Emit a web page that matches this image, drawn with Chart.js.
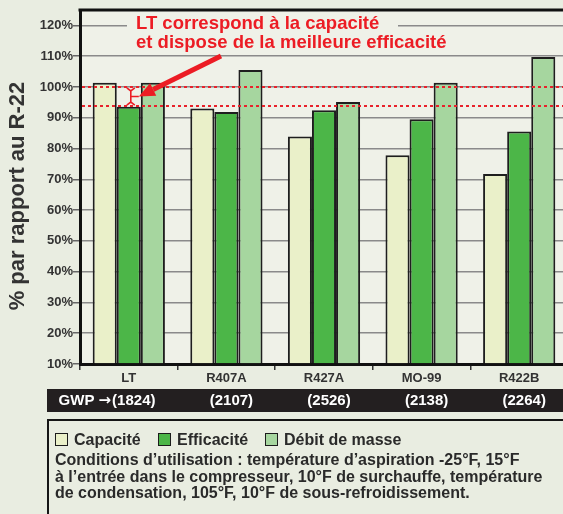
<!DOCTYPE html>
<html>
<head>
<meta charset="utf-8">
<script src="https://cdn.jsdelivr.net/npm/chart.js@4.4.1/dist/chart.umd.min.js"></script>
<style>
  html, body { margin: 0; padding: 0; }
  body { width: 563px; height: 514px; overflow: hidden; background: #e9ede1; position: relative;
         font-family: "Liberation Sans", Arial, sans-serif; }
  #wrap { position: absolute; left: 0; top: 0; width: 570px; height: 514px; }
  #legendBox { position: absolute; left: 47px; top: 419px; width: 600px; height: 120px;
               border: 2px solid #161616; box-sizing: border-box; color: #2a2a2a; }
  .leg { position: absolute; top: 10px; font-weight: bold; font-size: 16px; line-height: 18px; white-space: nowrap; }
  .sw { display: inline-block; width: 11px; height: 11px; border: 1.5px solid #1c1c1c; vertical-align: -1px; margin-right: 6px; }
  #cond { position: absolute; left: 6px; top: 31px; font-weight: bold; font-size: 16px; line-height: 16.5px; white-space: nowrap; }
</style>
</head>
<body>
<div id="wrap"><canvas id="c"></canvas></div>
<div id="legendBox">
  <div class="leg" style="left:6px"><span class="sw" id="sw0"></span>Capacité</div>
  <div class="leg" style="left:109px"><span class="sw" id="sw1"></span>Efficacité</div>
  <div class="leg" style="left:216px"><span class="sw" id="sw2"></span>Débit de masse</div>
  <div id="cond">Conditions d’utilisation : température d’aspiration -25°F, 15°F<br>à l’entrée dans le compresseur, 10°F de surchauffe, température<br>de condensation, 105°F, 10°F de sous-refroidissement.</div>
</div>
<script>
const categories = ['LT', 'R407A', 'R427A', 'MO-99', 'R422B'];
const gwpLabels = ['(1824)', '(2107)', '(2526)', '(2138)', '(2264)'];
const seriesNames = ['Capacité', 'Efficacité', 'Débit de masse'];
const capacite = [101.4, 93.0, 83.9, 77.8, 71.7];
const efficacite = [93.6, 91.9, 92.4, 89.5, 85.5];
const debit = [101.4, 105.5, 95.1, 101.4, 109.7];
const refLines = [100, 93.8];
const yMin = 10, yMax = 125, yStep = 10, yTop = 120;
const yTitle = '% par rapport au R-22';
const annotationLines = ['LT correspond à la capacité', 'et dispose de la meilleure efficacité'];

const colors = ['#eaf0c9', '#4cb648', '#a6d69f'];
const plotBg = '#eff1e8';
const FONT = '"Liberation Sans", Arial, sans-serif';
['sw0','sw1','sw2'].forEach((id, i) => document.getElementById(id).style.background = colors[i]);

const decor = {
  id: 'decor',
  beforeDraw(chart) {
    const { ctx, chartArea: a } = chart;
    ctx.save();
    ctx.fillStyle = plotBg;
    ctx.fillRect(a.left, a.top, a.right - a.left, a.bottom - a.top);
    ctx.restore();
  },
  afterDatasetsDraw(chart) {
    const { ctx, chartArea: a, scales } = chart;
    const y = scales.y, x = scales.x;
    ctx.save();
    // top border
    ctx.strokeStyle = '#111';
    ctx.lineWidth = 3;
    ctx.beginPath(); ctx.moveTo(a.left - 1.5, a.top); ctx.lineTo(a.right + 10, a.top); ctx.stroke();
    // dotted reference lines
    ctx.strokeStyle = '#e8222b';
    ctx.lineWidth = 2.2;
    ctx.setLineDash([3, 3]);
    refLines.forEach(v => {
      const py = Math.round(y.getPixelForValue(v));
      ctx.beginPath(); ctx.moveTo(a.left + 2, py); ctx.lineTo(a.right + 10, py); ctx.stroke();
    });
    ctx.setLineDash([]);
    // annotation background (interrupts 120% gridline)
    ctx.fillStyle = plotBg;
    ctx.fillRect(127, 14, 271, 20);
    // annotation text
    ctx.fillStyle = '#ec1c24';
    ctx.font = 'bold 18.5px ' + FONT;
    ctx.textBaseline = 'middle';
    ctx.textAlign = 'left';
    ctx.fillText(annotationLines[0], 136, 24);
    ctx.fillText(annotationLines[1], 136, 43);
    // bracket between the two reference values
    const y1 = y.getPixelForValue(refLines[0]), y2 = y.getPixelForValue(refLines[1]);
    const bx = x.getPixelForValue(0) + 2;
    const my = (y1 + y2) / 2;
    ctx.strokeStyle = '#ec1c24';
    ctx.lineWidth = 1.6;
    ctx.beginPath();
    ctx.moveTo(bx - 4, y1 + 1); ctx.lineTo(bx, y1 + 4); ctx.lineTo(bx + 4, y1 + 1);
    ctx.moveTo(bx, y1 + 4); ctx.lineTo(bx, y2 - 4);
    ctx.moveTo(bx - 4, y2 - 1); ctx.lineTo(bx, y2 - 4); ctx.lineTo(bx + 4, y2 - 1);
    ctx.moveTo(bx, my); ctx.lineTo(bx + 8, my);
    ctx.stroke();
    // arrow
    const sx = 221, sy = 56, tx = bx + 8, ty = my;
    const ang = Math.atan2(ty - sy, tx - sx);
    const headL = 16, headW = 7;
    const hx = tx - headL * Math.cos(ang), hy = ty - headL * Math.sin(ang);
    ctx.lineWidth = 5;
    ctx.lineCap = 'butt';
    ctx.beginPath(); ctx.moveTo(sx, sy); ctx.lineTo(hx, hy); ctx.stroke();
    ctx.fillStyle = '#ec1c24';
    ctx.beginPath();
    ctx.moveTo(tx, ty);
    ctx.lineTo(hx + headW * Math.sin(ang), hy - headW * Math.cos(ang));
    ctx.lineTo(hx - headW * Math.sin(ang), hy + headW * Math.cos(ang));
    ctx.closePath(); ctx.fill();
    ctx.restore();
  },
  afterDraw(chart) {
    const { ctx, scales } = chart;
    const x = scales.x;
    ctx.save();
    // y axis title
    ctx.translate(18, 196);
    ctx.rotate(-Math.PI / 2);
    ctx.fillStyle = '#333';
    ctx.font = 'bold 22px ' + FONT;
    ctx.textAlign = 'center';
    ctx.textBaseline = 'middle';
    ctx.fillText(yTitle, 0, 0);
    ctx.restore();
    ctx.save();
    ctx.fillStyle = '#231f20';
    ctx.fillRect(47, 389, 600, 23);
    ctx.fillStyle = '#ffffff';
    ctx.textBaseline = 'middle';
    ctx.textAlign = 'center';
    gwpLabels.forEach((t, i) => {
      ctx.font = 'bold 15px ' + FONT;
      const cx = x.getPixelForValue(i) + 5;
      ctx.fillText(t, cx, 401);
      if (i === 0) {
        const left = cx - ctx.measureText(t).width / 2;
        ctx.textAlign = 'right';
        ctx.font = 'bold 15px "DejaVu Sans", sans-serif';
        const aw = ctx.measureText('\u2192').width;
        ctx.fillText('\u2192', left - 1, 401);
        ctx.font = 'bold 15px ' + FONT;
        ctx.fillText('GWP ', left - 1 - aw, 401);
        ctx.textAlign = 'center';
      }
    });
    ctx.restore();
  }
};

const series = [capacite, efficacite, debit];
new Chart(document.getElementById('c'), {
  type: 'bar',
  data: {
    labels: categories,
    datasets: series.map((d, i) => ({
      label: seriesNames[i],
      data: d,
      base: yMin,
      backgroundColor: colors[i],
      borderColor: '#1e1e1e',
      borderWidth: 2,
      categoryPercentage: 0.74,
      barPercentage: 1.0
    }))
  },
  options: {
    responsive: true,
    maintainAspectRatio: false,
    animation: false,
    layout: { padding: { top: 10, right: 2, left: 0, bottom: 0 } },
    plugins: { legend: { display: false }, tooltip: { enabled: false } },
    scales: {
      x: {
        grid: { display: true, drawOnChartArea: false, drawTicks: true, tickLength: 6, color: '#333', lineWidth: 1.5, offset: true },
        border: { display: true, color: '#111', width: 3 },
        ticks: { color: '#333', font: { family: FONT, size: 13, weight: 'bold' }, padding: 1, maxRotation: 0 },
        afterFit(s) { s.height = 150; }
      },
      y: {
        min: yMin, max: yMax,
        ticks: { stepSize: yStep, color: '#333', padding: 0,
                 font: { family: FONT, size: 13, weight: 'bold' },
                 callback: v => v + '%' },
        afterBuildTicks(s) { s.ticks = s.ticks.filter(t => t.value <= yTop); },
        grid: { color: '#8a8a8a', lineWidth: 1.5, tickLength: 7, tickColor: '#666' },
        border: { display: true, color: '#111', width: 3 },
        title: { display: false, text: yTitle },
        afterFit(s) { s.width = 80; }
      }
    }
  },
  plugins: [decor]
});
</script>
</body>
</html>
